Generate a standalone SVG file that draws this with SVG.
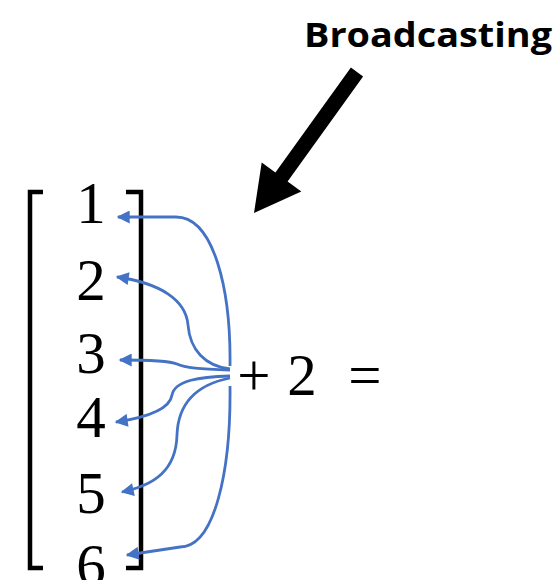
<svg xmlns="http://www.w3.org/2000/svg" width="560" height="580" viewBox="0 0 560 580">
<style>
.num{font-family:"Liberation Serif","DejaVu Serif",serif;font-size:59px;fill:#000;text-anchor:middle}
.br{fill:none;stroke:#000;stroke-width:4.5}
.con{fill:none;stroke:#4472C4;stroke-width:2.8;marker-end:url(#ah)}
.lbl{font-family:"Open Sans","Liberation Sans",Arial,sans-serif;font-weight:bold;font-size:34px;fill:#000}
</style>
<defs>
<marker id="ah" viewBox="0 0 10 10" refX="9" refY="5" markerWidth="14" markerHeight="13" markerUnits="userSpaceOnUse" orient="auto">
<path d="M0,0 L10,5 L0,10 z" fill="#4472C4"/>
</marker>
</defs>
<rect width="560" height="580" fill="#fff"/>
<g id="label">
<text class="lbl" x="304" y="47" textLength="248" lengthAdjust="spacingAndGlyphs">Broadcasting</text>
</g>
<g id="big-arrow">
<polygon points="350.9,67.6 363.1,76.4 287.6,181.4 301.3,191.5 254,213 261.7,162.5 275.4,172.6" fill="#000"/>
</g>
<g id="matrix">
<path class="br" d="M43,192 H30 V568 H43"/>
<path class="br" d="M126,192 H141 V568 H126"/>
<text class="num" x="91" y="223">1</text>
<text class="num" x="91" y="300">2</text>
<text class="num" x="91" y="373">3</text>
<text class="num" x="91" y="437">4</text>
<text class="num" x="91" y="513">5</text>
<text class="num" x="91" y="585">6</text>
</g>
<g id="expression">
<text class="num" x="254" y="395">+</text>
<text class="num" x="302" y="395">2</text>
<text class="num" x="365" y="395">=</text>
</g>
<g id="connectors">
<path class="con" d="M230,366 C231,290 214,217 176,217 L118,217"/>
<path class="con" d="M230,369 C205,366 190,350 188,325 C186,300 160,283 117,277"/>
<path class="con" d="M230,370 C200,369 185,368 177,364 C170,361 150,360 120,360"/>
<path class="con" d="M230,376 C200,377 175,380 172,395 C170,408 150,417 116,422"/>
<path class="con" d="M230,378 C195,385 178,405 177,435 C176,470 155,485 122,492"/>
<path class="con" d="M230,386 C231,470 215,547 180,547 L127,555"/>
</g>
</svg>
